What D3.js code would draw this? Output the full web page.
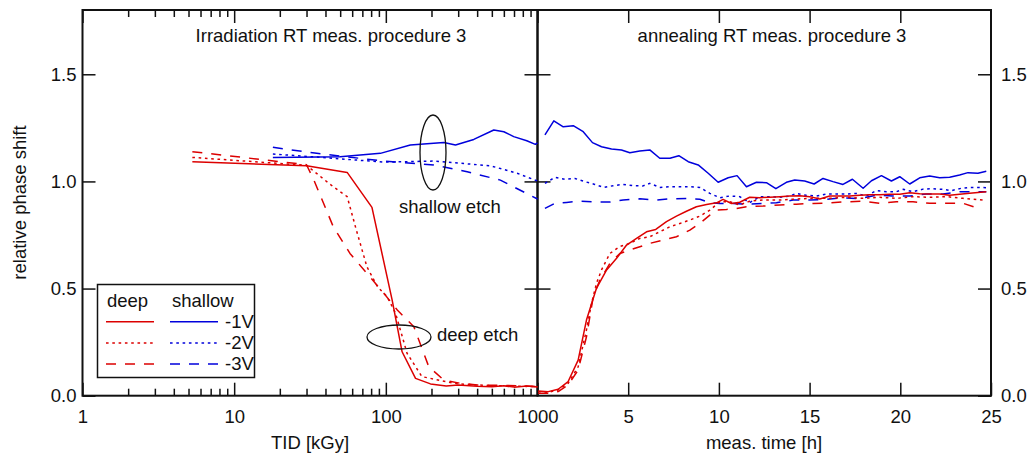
<!DOCTYPE html>
<html>
<head>
<meta charset="utf-8">
<script src="https://cdn.jsdelivr.net/npm/d3@7"></script>
<style>
  body { margin: 0; background: #fff; }
  svg text { font-family: "Liberation Sans", Arial, sans-serif; fill: #111; }
</style>
</head>
<body>
<svg id="chart" width="1029" height="457"></svg>
<script>
// ---- data: irradiation (TID in kGy) ----
const deep1V_tid = [5.3, 30, 55.6, 81, 110, 128, 157, 197, 250, 300, 400, 500, 600, 700, 850, 1000];
const deep1V_val = [1.092, 1.073, 1.042, 0.879, 0.447, 0.205, 0.081, 0.055, 0.045, 0.05, 0.044, 0.042, 0.046, 0.040, 0.045, 0.041];
const deep2V_tid = [5.3, 30, 45, 55.6, 63, 75, 88, 102, 116, 138, 173, 253, 300, 400, 500, 700, 1000];
const deep2V_val = [1.112, 1.075, 0.975, 0.929, 0.789, 0.602, 0.509, 0.462, 0.384, 0.198, 0.089, 0.065, 0.055, 0.05, 0.047, 0.045, 0.042];
const deep3V_tid = [5.3, 30, 33.5, 45, 58, 75, 97, 119, 153, 192, 241, 309, 400, 600, 1000];
const deep3V_val = [1.139, 1.078, 1.007, 0.789, 0.664, 0.571, 0.478, 0.40, 0.322, 0.135, 0.073, 0.058, 0.05, 0.048, 0.043];
const shallow1V_tid = [18, 50, 92, 145, 241, 288, 380, 515, 600, 697, 850, 968, 1000];
const shallow1V_val = [1.112, 1.115, 1.131, 1.170, 1.182, 1.170, 1.196, 1.240, 1.232, 1.209, 1.19, 1.173, 1.18];
const shallow2V_tid = [18, 45, 97, 207, 490, 734, 1000];
const shallow2V_val = [1.128, 1.108, 1.09, 1.095, 1.073, 1.038, 1.002];
const shallow3V_tid = [18, 35, 97, 207, 344, 569, 1000];
const shallow3V_val = [1.159, 1.131, 1.095, 1.077, 1.045, 1.006, 0.918];

// ---- data: annealing (time in h) ----
const an_deep1V_t = [0.04, 0.59, 1.14, 1.69, 2.24, 2.70, 3.25, 3.81, 4.36, 4.91, 5.46, 6.01, 6.52, 7.11, 7.66, 8.21, 8.76, 9.32, 9.87, 10.23, 10.69, 11.15, 11.70, 12.25, 12.80, 13.36, 13.91, 14.46, 15.01, 15.56, 16.11, 16.66, 17.21, 17.76, 18.31, 18.86, 19.42, 19.97, 20.52, 21.07, 21.62, 22.17, 22.72, 23.27, 23.82, 24.74];
const an_deep1V_v = [0.022, 0.019, 0.030, 0.066, 0.166, 0.353, 0.501, 0.587, 0.641, 0.703, 0.734, 0.765, 0.776, 0.812, 0.838, 0.861, 0.882, 0.892, 0.900, 0.916, 0.897, 0.903, 0.926, 0.924, 0.926, 0.929, 0.932, 0.933, 0.929, 0.918, 0.932, 0.932, 0.932, 0.935, 0.938, 0.938, 0.940, 0.940, 0.947, 0.943, 0.941, 0.941, 0.935, 0.940, 0.945, 0.952];
const an_deep2V_t = [0.04, 0.59, 1.14, 1.69, 2.24, 2.70, 2.98, 3.25, 3.53, 3.99, 4.54, 5.09, 5.64, 6.19, 6.74, 7.29, 7.85, 8.40, 8.95, 9.50, 10.05, 10.60, 11.15, 11.70, 12.44, 13.36, 14.27, 15.19, 16.11, 17.03, 17.95, 18.86, 19.78, 20.70, 21.62, 22.54, 23.46, 24.56];
const an_deep2V_v = [0.019, 0.016, 0.027, 0.058, 0.135, 0.307, 0.431, 0.524, 0.587, 0.664, 0.696, 0.711, 0.734, 0.742, 0.765, 0.788, 0.804, 0.820, 0.838, 0.866, 0.905, 0.905, 0.890, 0.908, 0.913, 0.913, 0.918, 0.921, 0.921, 0.926, 0.921, 0.926, 0.921, 0.929, 0.926, 0.929, 0.921, 0.913];
const an_deep3V_t = [0.04, 0.59, 1.14, 1.69, 2.24, 2.70, 3.07, 3.44, 3.99, 4.54, 5.09, 5.64, 6.19, 6.93, 7.66, 8.40, 8.95, 9.50, 9.87, 10.42, 10.97, 11.52, 12.44, 13.36, 14.27, 15.19, 16.11, 17.03, 17.95, 18.86, 19.78, 20.70, 21.62, 22.54, 23.46, 24.47];
const an_deep3V_v = [0.011, 0.011, 0.019, 0.050, 0.120, 0.275, 0.461, 0.540, 0.617, 0.664, 0.680, 0.695, 0.711, 0.726, 0.742, 0.773, 0.804, 0.843, 0.866, 0.869, 0.874, 0.882, 0.885, 0.890, 0.894, 0.897, 0.900, 0.905, 0.908, 0.898, 0.905, 0.905, 0.898, 0.898, 0.898, 0.870];
const an_sh1V_t = [0.41, 0.90, 1.42, 1.97, 2.52, 3.03, 3.53, 4.08, 4.63, 5.09, 5.64, 6.19, 6.74, 7.30, 7.79, 8.31, 8.86, 9.41, 9.96, 10.51, 11.00, 11.52, 12.07, 12.62, 13.14, 13.72, 14.18, 14.73, 15.25, 15.74, 16.29, 16.84, 17.36, 17.95, 18.41, 18.96, 19.51, 19.97, 20.52, 21.07, 21.62, 22.17, 22.72, 23.27, 23.73, 24.28, 24.74];
const an_sh1V_v = [1.217, 1.283, 1.255, 1.260, 1.232, 1.181, 1.162, 1.151, 1.147, 1.134, 1.142, 1.147, 1.108, 1.108, 1.120, 1.092, 1.077, 1.038, 0.996, 1.017, 1.027, 0.975, 0.996, 0.994, 0.966, 0.996, 1.007, 1.002, 0.988, 1.014, 0.999, 0.986, 1.010, 0.968, 1.003, 1.027, 1.002, 1.022, 0.988, 1.017, 1.025, 1.017, 1.019, 1.030, 1.041, 1.038, 1.047];
const an_sh2V_t = [0.41, 0.96, 1.51, 2.06, 2.61, 3.16, 3.66, 4.17, 4.72, 5.27, 5.82, 6.19, 6.74, 7.29, 7.85, 8.40, 8.95, 9.50, 10.05, 10.60, 11.15, 11.70, 12.25, 12.80, 13.35, 13.91, 14.27, 14.82, 15.37, 15.93, 16.48, 17.03, 17.58, 18.13, 18.68, 19.23, 19.78, 20.15, 20.70, 21.25, 21.80, 22.35, 22.81, 23.36, 23.82, 24.28, 24.74];
const an_sh2V_v = [0.991, 1.019, 1.010, 1.014, 0.999, 0.986, 0.972, 0.980, 0.986, 0.980, 0.979, 0.991, 0.972, 0.975, 0.975, 0.975, 0.972, 0.944, 0.924, 0.932, 0.929, 0.901, 0.929, 0.929, 0.926, 0.932, 0.944, 0.935, 0.932, 0.941, 0.941, 0.941, 0.944, 0.932, 0.957, 0.952, 0.952, 0.963, 0.952, 0.964, 0.966, 0.963, 0.957, 0.968, 0.972, 0.972, 0.971];
const an_sh3V_t = [0.41, 0.96, 1.60, 2.34, 3.25, 3.99, 4.72, 5.64, 6.56, 7.29, 8.21, 8.95, 9.50, 10.05, 10.78, 11.52, 12.44, 13.17, 14.09, 15.01, 15.93, 16.84, 17.76, 18.68, 19.60, 20.52, 21.44, 22.35, 23.27, 24.01, 24.74];
const an_sh3V_v = [0.874, 0.898, 0.902, 0.908, 0.904, 0.904, 0.913, 0.919, 0.913, 0.919, 0.920, 0.917, 0.900, 0.897, 0.897, 0.894, 0.897, 0.901, 0.913, 0.913, 0.916, 0.924, 0.919, 0.936, 0.932, 0.932, 0.941, 0.941, 0.952, 0.952, 0.952];

const yTicks = [0, 0.5, 1.0, 1.5];
const xMajorL = [1, 10, 100, 1000];
const xMinorL = [2,3,4,5,6,7,8,9, 20,30,40,50,60,70,80,90, 200,300,400,500,600,700,800,900];
const xTicksR = [5, 10, 15, 20, 25];
const legendRows = ["-1V", "-2V", "-3V"];

const RED = "#dc0000", BLUE = "#0000dc";
const DOT = "2.6,3.7", DASH = "10,9";
const FS = "18.5px";

const svg = d3.select("#chart");
const pLeft = 82.5, pMid = 537.5, pRight = 991, pTop = 10, pBottom = 395.7;

const xL = d3.scaleLog().domain([1, 1000]).range([pLeft, pMid]);
const xR = d3.scaleLinear().domain([0, 25]).range([pMid, pRight]);
const y = d3.scaleLinear().domain([0, 1.8]).range([pBottom, pTop]);

// axes (ticks point inward)
function styleAxis(g) {
  g.select(".domain").remove();
  g.selectAll(".tick line").attr("stroke", "#111").attr("stroke-width", 1.5);
  g.selectAll("text").style("font-size", FS).attr("fill", "#111");
}
svg.append("g").attr("transform", `translate(0,${pBottom})`)
  .call(d3.axisBottom(xL).tickValues(xMajorL).tickFormat(d3.format("d")).tickSizeInner(-13).tickSizeOuter(0).tickPadding(14.5))
  .call(styleAxis);
svg.append("g").attr("transform", `translate(0,${pBottom})`)
  .call(d3.axisBottom(xL).tickValues(xMinorL).tickFormat("").tickSizeInner(-7).tickSizeOuter(0))
  .call(styleAxis);
svg.append("g").attr("transform", `translate(0,${pTop})`)
  .call(d3.axisTop(xL).tickValues(xMajorL).tickFormat("").tickSizeInner(-13).tickSizeOuter(0))
  .call(styleAxis);
svg.append("g").attr("transform", `translate(0,${pTop})`)
  .call(d3.axisTop(xL).tickValues(xMinorL).tickFormat("").tickSizeInner(-7).tickSizeOuter(0))
  .call(styleAxis);
svg.append("g").attr("transform", `translate(0,${pBottom})`)
  .call(d3.axisBottom(xR).tickValues(xTicksR).tickFormat(d3.format("d")).tickSizeInner(-13).tickSizeOuter(0).tickPadding(14.5))
  .call(styleAxis);
svg.append("g").attr("transform", `translate(0,${pTop})`)
  .call(d3.axisTop(xR).tickValues(xTicksR.slice(0, 4)).tickFormat("").tickSizeInner(-13).tickSizeOuter(0))
  .call(styleAxis);

svg.append("g").attr("transform", `translate(${pLeft},0)`)
  .call(d3.axisLeft(y).tickValues(yTicks).tickFormat(d3.format(".1f")).tickSizeInner(-13).tickSizeOuter(0).tickPadding(6))
  .call(styleAxis);
svg.append("g").attr("transform", `translate(${pMid},0)`)
  .call(d3.axisLeft(y).tickValues(yTicks.slice(1)).tickFormat("").tickSizeInner(13).tickSizeOuter(0))
  .call(styleAxis);
svg.append("g").attr("transform", `translate(${pMid},0)`)
  .call(d3.axisRight(y).tickValues(yTicks.slice(1)).tickFormat("").tickSizeInner(13).tickSizeOuter(0))
  .call(styleAxis);
svg.append("g").attr("transform", `translate(${pRight},0)`)
  .call(d3.axisRight(y).tickValues(yTicks).tickFormat(d3.format(".1f")).tickSizeInner(-13).tickSizeOuter(0).tickPadding(10))
  .call(styleAxis);

// frames
svg.append("rect").attr("x", pLeft).attr("y", pTop).attr("width", pMid - pLeft).attr("height", pBottom - pTop)
  .attr("fill", "none").attr("stroke", "#111").attr("stroke-width", 2);
svg.append("rect").attr("x", pMid).attr("y", pTop).attr("width", pRight - pMid).attr("height", pBottom - pTop)
  .attr("fill", "none").attr("stroke", "#111").attr("stroke-width", 2);

// curves
function drawLine(xs, ys, xScale, color, dash) {
  const pts = xs.map((d, i) => [xScale(d), y(ys[i])]);
  svg.append("path").attr("d", d3.line()(pts))
    .attr("fill", "none").attr("stroke", color).attr("stroke-width", 1.5)
    .attr("stroke-dasharray", dash || null).attr("stroke-linejoin", "round");
}
drawLine(shallow3V_tid, shallow3V_val, xL, BLUE, DASH);
drawLine(shallow2V_tid, shallow2V_val, xL, BLUE, DOT);
drawLine(shallow1V_tid, shallow1V_val, xL, BLUE);
drawLine(deep3V_tid, deep3V_val, xL, RED, DASH);
drawLine(deep2V_tid, deep2V_val, xL, RED, DOT);
drawLine(deep1V_tid, deep1V_val, xL, RED);

drawLine(an_sh3V_t, an_sh3V_v, xR, BLUE, DASH);
drawLine(an_sh2V_t, an_sh2V_v, xR, BLUE, DOT);
drawLine(an_sh1V_t, an_sh1V_v, xR, BLUE);
drawLine(an_deep3V_t, an_deep3V_v, xR, RED, DASH);
drawLine(an_deep2V_t, an_deep2V_v, xR, RED, DOT);
drawLine(an_deep1V_t, an_deep1V_v, xR, RED);

// titles
svg.append("text").attr("x", 331).attr("y", 42).attr("text-anchor", "middle")
  .style("font-size", FS).text("Irradiation RT meas. procedure 3");
svg.append("text").attr("x", 772).attr("y", 42).attr("text-anchor", "middle")
  .style("font-size", FS).text("annealing RT meas. procedure 3");
svg.append("text").attr("x", 310).attr("y", 449).attr("text-anchor", "middle")
  .style("font-size", FS).text("TID [kGy]");
svg.append("text").attr("x", 764).attr("y", 449).attr("text-anchor", "middle")
  .style("font-size", FS).text("meas. time [h]");
svg.append("text").attr("transform", "translate(26,202.5) rotate(-90)").attr("text-anchor", "middle")
  .style("font-size", FS).text("relative phase shift");

// annotations
svg.append("ellipse").attr("cx", 433).attr("cy", 152.5).attr("rx", 13).attr("ry", 37.5)
  .attr("fill", "none").attr("stroke", "#111").attr("stroke-width", 1.3);
svg.append("text").attr("x", 399).attr("y", 213).style("font-size", FS).text("shallow etch");
svg.append("ellipse").attr("cx", 399).attr("cy", 337).attr("rx", 32).attr("ry", 12)
  .attr("fill", "none").attr("stroke", "#111").attr("stroke-width", 1.3);
svg.append("text").attr("x", 437).attr("y", 341).style("font-size", FS).text("deep etch");

// legend
const lg = svg.append("g");
lg.append("rect").attr("x", 97.5).attr("y", 284.5).attr("width", 157).attr("height", 93)
  .attr("fill", "#fff").attr("stroke", "#111").attr("stroke-width", 1.5);
lg.append("text").attr("x", 107).attr("y", 307).style("font-size", FS).text("deep");
lg.append("text").attr("x", 172).attr("y", 307).style("font-size", FS).text("shallow");
const dashes = [null, DOT, DASH];
legendRows.forEach((lbl, i) => {
  const ly = 321.7 + i * 21.2;
  lg.append("line").attr("x1", 106).attr("x2", 154).attr("y1", ly).attr("y2", ly)
    .attr("stroke", RED).attr("stroke-width", 1.5).attr("stroke-dasharray", dashes[i]);
  lg.append("line").attr("x1", 170).attr("x2", 218).attr("y1", ly).attr("y2", ly)
    .attr("stroke", BLUE).attr("stroke-width", 1.5).attr("stroke-dasharray", dashes[i]);
  lg.append("text").attr("x", 225).attr("y", ly + 6).style("font-size", FS).text(lbl);
});
</script>
</body>
</html>
